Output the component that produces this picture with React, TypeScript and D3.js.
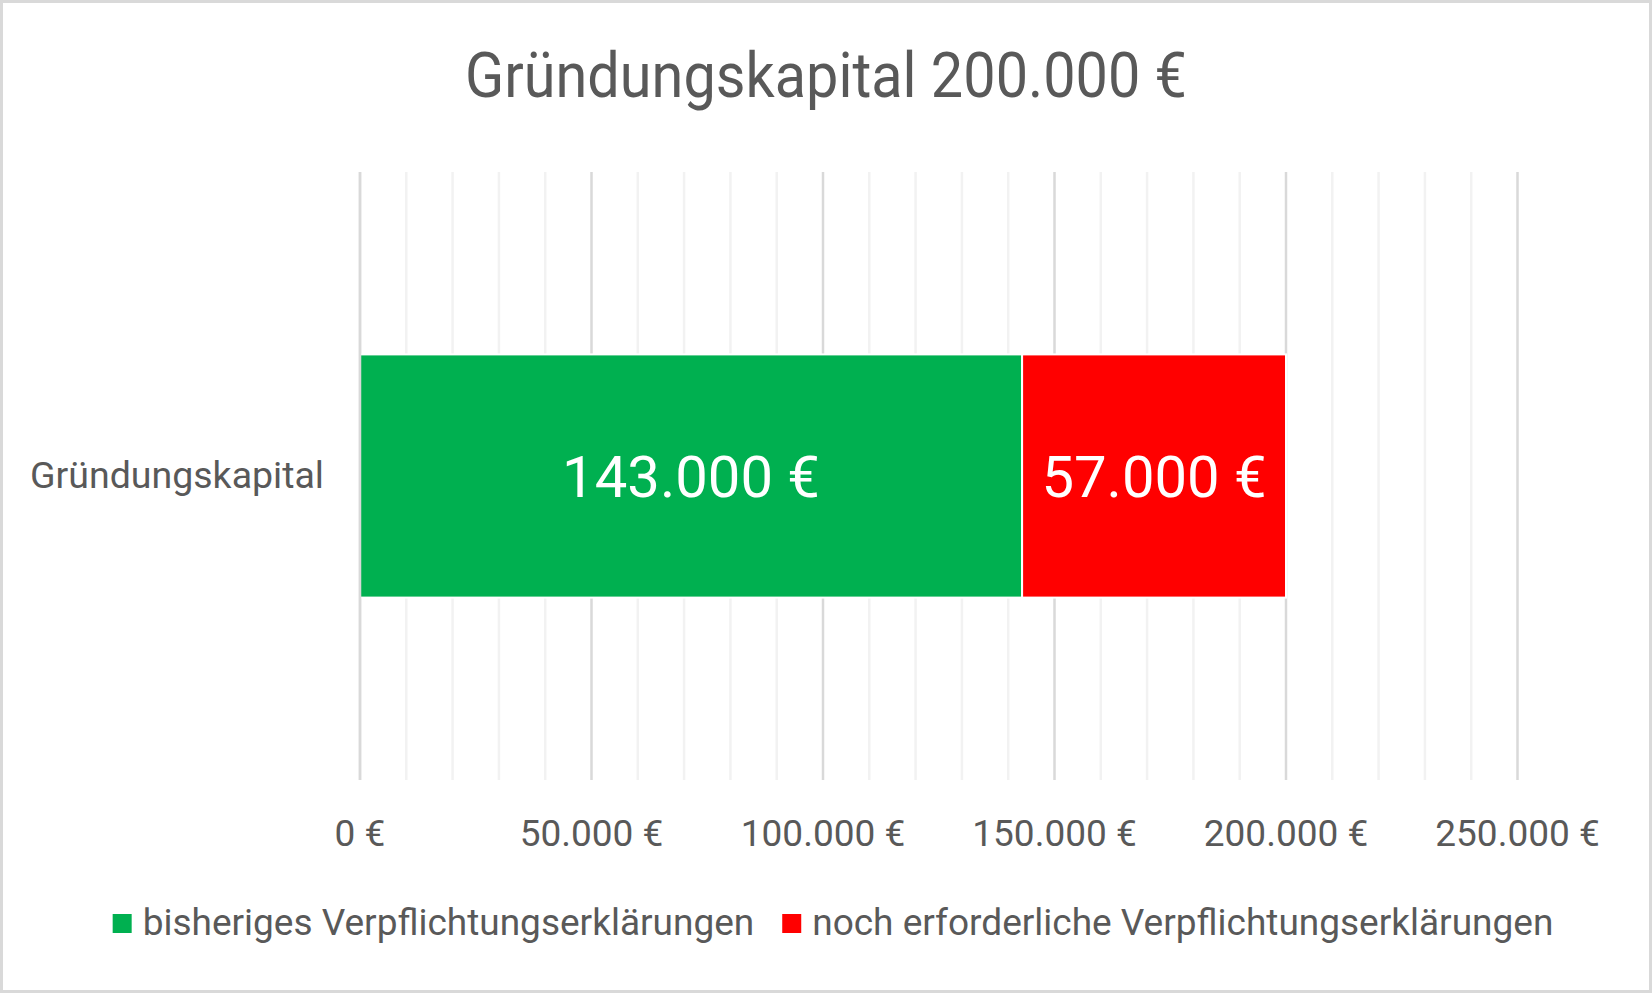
import * as d3 from "d3";
import { useMemo } from "react";

const chartTitle = "Gründungskapital 200.000 €";
const categories = ["Gründungskapital"];
const seriesNames = [
  "bisheriges Verpflichtungserklärungen",
  "noch erforderliche Verpflichtungserklärungen",
];
const seriesColors = ["#00b050", "#ff0000"];
const seriesValues = [[143000], [57000]];
const xTicks = [0, 50000, 100000, 150000, 200000, 250000];
const xMax = 250000;
const minorStep = 10000;

const deLocale = d3.formatLocale({
  decimal: ",",
  thousands: ".",
  grouping: [3],
  currency: ["", " €"],
});
const euro = deLocale.format("$,.0f");

const FONT = "Roboto, 'Noto Sans', sans-serif";
const TEXT_COLOR = "#595959";

// canvas helper so the legend can be centred like in Excel
function measure(text: string, size: number) {
  const ctx = document.createElement("canvas").getContext("2d");
  if (!ctx) return text.length * size * 0.45;
  ctx.font = `${size}px Roboto`;
  return ctx.measureText(text).width;
}

function App() {
  const width = 1652;
  const height = 993;
  const margin = { top: 172, right: 134.5, bottom: 213, left: 360 };

  const boundsRight = width - margin.right;
  const boundsBottom = height - margin.bottom;

  const table = categories.map((cat, i) => {
    const row: Record<string, any> = { category: cat };
    seriesNames.forEach((name, s) => (row[name] = seriesValues[s][i]));
    return row;
  });
  const series = d3.stack().keys(seriesNames)(table as any);

  const xScale = useMemo(
    () => d3.scaleLinear().domain([0, xMax]).range([margin.left, boundsRight]),
    []
  );
  const yScale = useMemo(
    () =>
      d3
        .scaleBand<string>()
        .domain(categories)
        .range([margin.top, boundsBottom])
        .paddingInner(0.6)
        .paddingOuter(0.3),
    []
  );

  const minorTicks = d3.range(0, xMax + 1, minorStep).filter((t) => t % 50000 !== 0);

  // legend layout
  const legendSize = 37;
  const sw = 19;
  const gapText = 11;
  const gapItem = 28;
  const widths = seriesNames.map((n) => measure(n, legendSize));
  const totalLegend =
    widths.reduce((a, b) => a + b, 0) + seriesNames.length * (sw + gapText) + gapItem * (seriesNames.length - 1);
  let lx = width / 2 + 7 - totalLegend / 2;
  const legendItems = seriesNames.map((n, i) => {
    const x = lx;
    lx += sw + gapText + widths[i] + gapItem;
    return { name: n, x, color: seriesColors[i] };
  });

  return (
    <svg
      width={width}
      height={height}
      style={{ position: "absolute", left: 0, top: 0, background: "#fff" }}
      fontFamily={FONT}
    >
      <rect x={1.5} y={1.5} width={width - 3} height={height - 3} fill="#fff" stroke="#d9d9d9" strokeWidth={3} />

      <text
        x={width / 2}
        y={97}
        textAnchor="middle"
        fontSize={63}
        fill={TEXT_COLOR}
        textLength={722}
        lengthAdjust="spacingAndGlyphs"
      >
        {chartTitle}
      </text>

      {/* gridlines */}
      <g>
        {minorTicks.map((t) => (
          <line key={t} x1={xScale(t)} x2={xScale(t)} y1={margin.top} y2={boundsBottom} stroke="#f2f2f2" strokeWidth={2.5} />
        ))}
        {xTicks.map((t) => (
          <line key={t} x1={xScale(t)} x2={xScale(t)} y1={margin.top} y2={boundsBottom} stroke="#d9d9d9" strokeWidth={2.5} />
        ))}
      </g>

      {/* bars */}
      {series.map((s, i) => (
        <g key={s.key}>
          {s.map((d, j) => {
            const cat = categories[j];
            const x0 = xScale(d[0]);
            const x1 = xScale(d[1]);
            const y = yScale(cat) as number;
            const h = yScale.bandwidth();
            return (
              <g key={j}>
                <rect x={x0} y={y} width={x1 - x0} height={h} fill={seriesColors[i]} stroke="#fff" strokeWidth={2} />
                <text
                  x={(x0 + x1) / 2}
                  y={y + h / 2 + 21}
                  textAnchor="middle"
                  fontSize={58}
                  fill="#fff"
                >
                  {euro(d[1] - d[0])}
                </text>
              </g>
            );
          })}
        </g>
      ))}

      {/* value axis line at 0 */}
      <line x1={xScale(0)} x2={xScale(0)} y1={margin.top} y2={boundsBottom} stroke="#d9d9d9" strokeWidth={2.5} />

      {/* category labels */}
      {categories.map((c) => (
        <text
          key={c}
          x={324}
          y={(yScale(c) as number) + yScale.bandwidth() / 2 + 12}
          textAnchor="end"
          fontSize={37.5}
          fill={TEXT_COLOR}
        >
          {c}
        </text>
      ))}

      {/* x tick labels */}
      {xTicks.map((t) => (
        <text key={t} x={xScale(t)} y={846} textAnchor="middle" fontSize={37} fill={TEXT_COLOR}>
          {euro(t)}
        </text>
      ))}

      {/* legend */}
      {legendItems.map((it) => (
        <g key={it.name}>
          <rect x={it.x} y={914} width={sw} height={sw} fill={it.color} />
          <text x={it.x + sw + gapText} y={935} fontSize={legendSize} fill={TEXT_COLOR}>
            {it.name}
          </text>
        </g>
      ))}
    </svg>
  );
}

export default App;
